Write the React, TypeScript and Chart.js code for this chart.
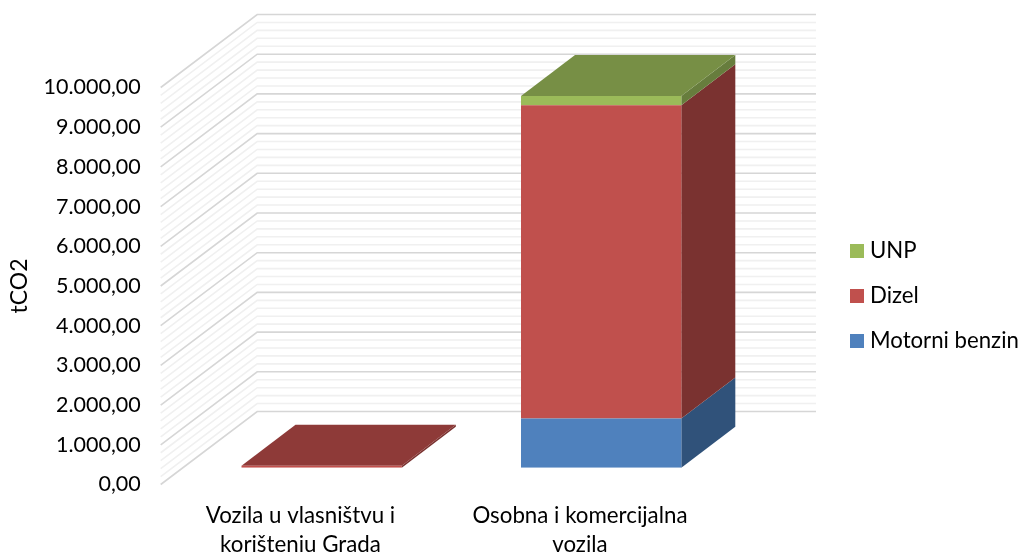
import React, { useEffect, useRef } from "react";
import { Chart, registerables } from "chart.js";

Chart.register(...registerables);

const categories = [["Vozila u vlasništvu i", "korištenju Grada"], ["Osobna i komercijalna", "vozila"]];
const benzin = [0, 1240];
const dizel = [50, 7890];
const unp = [0, 235];
const seriesNames = ["Motorni benzin", "Dizel", "UNP"];
const frontColors = ["#4F81BD", "#C0504D", "#9BBB59"];
const sideColors = ["#30527A", "#7A3230", "#677D3D"];
const topColors = ["#3E6593", "#8E3A38", "#778F45"];

const FONT = "Lato";
const FS = 21.5;
const FS_LARGE = 22.2;
const WALL_DX = 96.5;
const WALL_DY = 73;
const WALL_RIGHT = 816;
const BAR_SHIFT_X = 21.2;
const BAR_SHIFT_Y = 16.8;
const BAR_DX = 54;
const BAR_DY = 41;

const fmt = (v: number) => {
  const s = Math.round(v).toString().replace(/\B(?=(\d{3})+$)/g, ".");
  return s + ",00";
};

const depthPlugin = {
  id: "depth",
  beforeDatasetsDraw(chart: any) {
    const { ctx } = chart;
    const yS = chart.scales.y;
    const left = chart.chartArea.left;
    ctx.save();
    for (const major of [false, true]) {
      for (let v = 0; v <= 10000; v += 200) {
        const isMajor = v % 1000 === 0;
        if (isMajor !== major) continue;
        const y = yS.getPixelForValue(v);
        ctx.beginPath();
        ctx.moveTo(left, y);
        ctx.lineTo(left + WALL_DX, y - WALL_DY);
        ctx.lineTo(WALL_RIGHT, y - WALL_DY);
        ctx.strokeStyle = isMajor ? "#D6D6D6" : "#F0F0F0";
        ctx.lineWidth = 1.6;
        ctx.stroke();
      }
    }
    ctx.restore();

    ctx.save();
    ctx.translate(BAR_SHIFT_X, -BAR_SHIFT_Y);
    const count = chart.data.labels.length;
    for (let i = 0; i < count; i++) {
      let topIdx = -1;
      chart.data.datasets.forEach((d: any, ds: number) => {
        if (d.data[i] > 0) topIdx = ds;
      });
      chart.data.datasets.forEach((d: any, ds: number) => {
        if (!(d.data[i] > 0)) return;
        const el: any = chart.getDatasetMeta(ds).data[i];
        const x1 = el.x + el.width / 2;
        const x0 = el.x - el.width / 2;
        const yt = el.y;
        const yb = el.base;
        ctx.fillStyle = sideColors[ds];
        ctx.beginPath();
        ctx.moveTo(x1, yb);
        ctx.lineTo(x1 + BAR_DX, yb - BAR_DY);
        ctx.lineTo(x1 + BAR_DX, yt - BAR_DY);
        ctx.lineTo(x1, yt);
        ctx.closePath();
        ctx.fill();
        if (ds === topIdx) {
          ctx.fillStyle = topColors[ds];
          ctx.beginPath();
          ctx.moveTo(x0, yt);
          ctx.lineTo(x1, yt);
          ctx.lineTo(x1 + BAR_DX, yt - BAR_DY);
          ctx.lineTo(x0 + BAR_DX, yt - BAR_DY);
          ctx.closePath();
          ctx.fill();
        }
      });
    }
  },
  afterDatasetsDraw(chart: any) {
    chart.ctx.restore();
  },
  afterDraw(chart: any) {
    const { ctx } = chart;
    ctx.save();
    ctx.font = `${FS_LARGE}px ${FONT}`;
    ctx.textBaseline = "middle";
    ctx.textAlign = "left";
    seriesNames.forEach((name, i) => {
      const cy = 341 - i * 45;
      ctx.fillStyle = frontColors[i];
      ctx.fillRect(850, cy - 7, 14, 14);
      ctx.fillStyle = "#000";
      ctx.fillText(name, 870, cy);
    });
    ctx.restore();
  },
};

export default function App() {
  const ref = useRef<HTMLCanvasElement>(null);
  useEffect(() => {
    document.body.style.margin = "0";
    const values = [benzin, dizel, unp];
    const chart = new Chart(ref.current as HTMLCanvasElement, {
      type: "bar",
      data: {
        labels: categories as any,
        datasets: values.map((data, i) => ({
          label: seriesNames[i],
          data,
          backgroundColor: frontColors[i],
          borderWidth: 0,
          barPercentage: 0.5735,
          categoryPercentage: 1,
        })),
      },
      options: {
        responsive: false,
        animation: false,
        layout: { padding: { top: 87.5, right: 301.3, left: 0, bottom: 0 } },
        plugins: {
          tooltip: { enabled: false },
          title: { display: false },
          legend: { display: false },
        },
        scales: {
          x: {
            stacked: true,
            grid: { display: false },
            border: { display: false },
            ticks: {
              color: "#000",
              padding: 8.5,
              maxRotation: 0,
              autoSkip: false,
              font: { family: FONT, size: FS_LARGE + 0.1, lineHeight: 1.3 },
            },
            afterFit: (s: any) => { s.height = 67.5; },
          },
          y: {
            stacked: true,
            min: 0,
            max: 10000,
            grid: { display: false, drawTicks: false },
            border: { display: false },
            ticks: {
              stepSize: 1000,
              color: "#000",
              padding: 20,
              callback: (v: any) => fmt(Number(v)),
              font: { family: FONT, size: FS },
            },
            title: {
              display: true,
              text: "tCO2",
              color: "#000",
              padding: { top: 5.5, bottom: 0 },
              font: { family: FONT, size: 23 },
            },
            afterFit: (s: any) => { s.width = 160.7; },
          },
        },
      } as any,
      plugins: [depthPlugin],
    });
    return () => chart.destroy();
  }, []);
  return <canvas ref={ref} width={1021} height={552} style={{ display: "block" }} />;
}
